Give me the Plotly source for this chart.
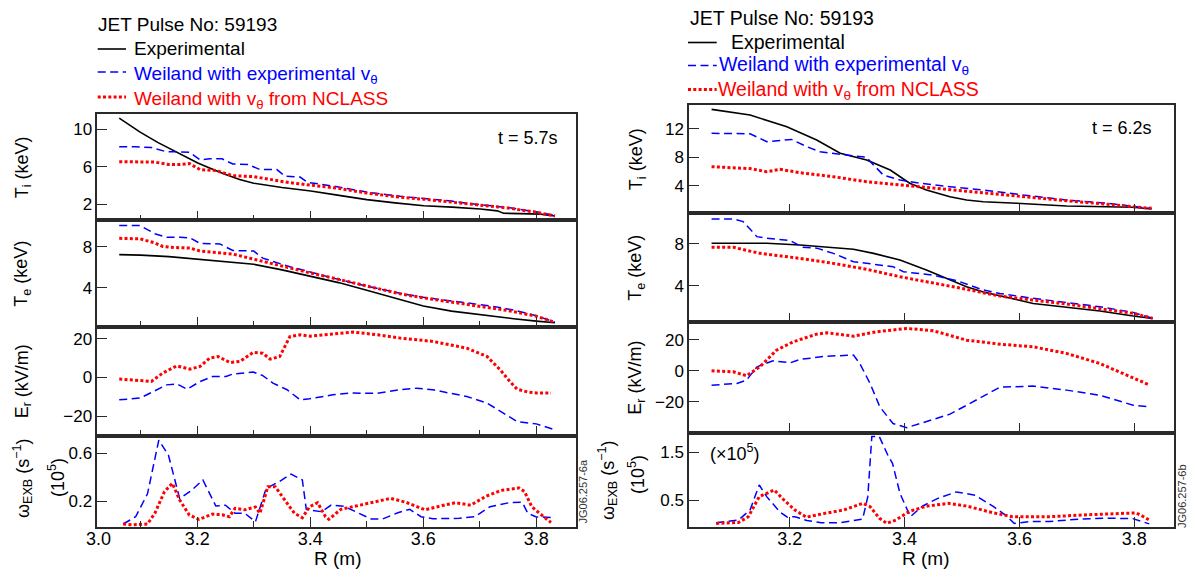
import plotly.graph_objects as go

W, H = 1188, 574

# ---------------- t = 5.7 s (left column) ----------------
L_TI_EXP_R = [3.062, 3.099, 3.130, 3.162, 3.201, 3.223, 3.249, 3.275, 3.300, 3.350, 3.401, 3.451,
              3.500, 3.550, 3.601, 3.651, 3.701, 3.731, 3.742, 3.770, 3.807, 3.833]
L_TI_EXP = [11.2, 9.7, 8.6, 7.6, 6.4, 5.85, 5.2, 4.65, 4.25, 3.8, 3.42, 2.95,
            2.5, 2.15, 1.85, 1.7, 1.5, 1.3, 1.05, 1.0, 0.95, 0.75]
L_TI_BLUE_R = [3.062, 3.091, 3.119, 3.146, 3.165, 3.186, 3.205, 3.222, 3.244, 3.263, 3.290, 3.311,
               3.341, 3.355, 3.382, 3.395, 3.450, 3.500, 3.559, 3.600, 3.650, 3.677, 3.750, 3.800, 3.833]
L_TI_BLUE = [8.15, 8.15, 8.05, 7.6, 7.6, 7.55, 6.75, 6.85, 6.85, 6.3, 6.25, 5.7,
             5.7, 5.0, 4.9, 4.35, 3.85, 3.3, 2.85, 2.65, 2.35, 2.1, 1.65, 1.2, 0.8]
L_TI_RED_R = [3.062, 3.099, 3.125, 3.149, 3.170, 3.186, 3.205, 3.233, 3.263, 3.300, 3.334, 3.364,
              3.400, 3.450, 3.500, 3.559, 3.600, 3.650, 3.700, 3.750, 3.800, 3.833]
L_TI_RED = [6.55, 6.55, 6.5, 6.25, 6.25, 6.35, 5.7, 5.6, 5.05, 4.95, 4.6, 4.3,
            4.05, 3.7, 3.2, 2.75, 2.55, 2.25, 1.95, 1.6, 1.15, 0.75]

L_TE_EXP_R = [3.062, 3.100, 3.150, 3.200, 3.250, 3.300, 3.350, 3.400, 3.450, 3.500, 3.559, 3.600,
              3.650, 3.677, 3.720, 3.760, 3.800, 3.833]
L_TE_EXP = [7.25, 7.2, 7.05, 6.82, 6.6, 6.3, 5.75, 5.1, 4.5, 3.75, 2.8, 2.2,
            1.7, 1.5, 1.2, 0.95, 0.72, 0.55]
L_TE_BLUE_R = [3.062, 3.099, 3.125, 3.146, 3.170, 3.187, 3.205, 3.240, 3.263, 3.300, 3.316, 3.341,
               3.364, 3.400, 3.440, 3.500, 3.559, 3.600, 3.650, 3.677, 3.720, 3.760, 3.800, 3.833]
L_TE_BLUE = [10.1, 10.1, 9.3, 8.95, 8.95, 8.9, 8.35, 8.3, 7.65, 7.6, 6.9, 6.45,
             6.05, 5.55, 4.95, 4.15, 3.45, 3.05, 2.7, 2.55, 2.2, 1.8, 1.25, 0.6]
L_TE_RED_R = [3.062, 3.099, 3.125, 3.139, 3.160, 3.187, 3.205, 3.263, 3.300, 3.350, 3.400, 3.440,
              3.500, 3.559, 3.600, 3.650, 3.700, 3.750, 3.800, 3.833]
L_TE_RED = [8.85, 8.8, 8.4, 8.05, 7.95, 7.9, 7.6, 7.3, 6.8, 6.1, 5.45, 4.95,
            4.2, 3.4, 3.0, 2.6, 2.2, 1.75, 1.2, 0.6]

L_ER_BLUE_R = [3.062, 3.099, 3.146, 3.164, 3.182, 3.205, 3.227, 3.251, 3.263, 3.299, 3.316, 3.334,
               3.359, 3.382, 3.399, 3.440, 3.470, 3.518, 3.559, 3.589, 3.620, 3.677, 3.713, 3.736,
               3.766, 3.800, 3.833]
L_ER_BLUE = [-11.5, -10.6, -3.8, -3.3, -6.0, -2.1, 0.5, 0.5, 1.8, 2.8, 1.0, -2.9,
             -6.3, -11.5, -11.0, -8.9, -8.0, -8.2, -6.3, -5.5, -6.5, -9.8, -13.2, -17.5,
             -22.7, -23.9, -27.0]
L_ER_RED_R = [3.062, 3.099, 3.119, 3.139, 3.164, 3.187, 3.205, 3.222, 3.237, 3.258, 3.276, 3.299,
              3.316, 3.329, 3.346, 3.364, 3.382, 3.400, 3.440, 3.476, 3.520, 3.559, 3.617, 3.677,
              3.713, 3.736, 3.753, 3.766, 3.785, 3.800, 3.826]
L_ER_RED = [-0.8, -1.5, -2.0, 2.3, 6.0, 4.3, 5.7, 10.0, 10.8, 7.7, 8.3, 12.9,
            12.5, 9.5, 10.8, 21.1, 22.0, 21.3, 22.5, 23.4, 22.0, 20.3, 18.6, 15.1,
            10.8, 4.0, -2.0, -6.0, -7.5, -8.0, -8.0]

L_W_BLUE_R = [3.069, 3.091, 3.112, 3.132, 3.149, 3.169, 3.190, 3.210, 3.233, 3.250, 3.267, 3.284,
              3.303, 3.322, 3.345, 3.366, 3.386, 3.393, 3.420, 3.437, 3.460, 3.487, 3.508, 3.528,
              3.555, 3.576, 3.596, 3.617, 3.664, 3.691, 3.718, 3.752, 3.775, 3.785, 3.799, 3.830]
L_W_BLUE = [0.007, 0.068, 0.26, 0.71, 0.586, 0.22, 0.29, 0.376, 0.158, 0.165, 0.097, 0.097,
            0.026, 0.306, 0.362, 0.426, 0.376, 0.13, 0.11, 0.166, 0.155, 0.097, 0.049, 0.049,
            0.102, 0.13, 0.068, 0.051, 0.055, 0.068, 0.152, 0.186, 0.19, 0.097, 0.068, 0.06]
L_W_RED_R = [3.069, 3.084, 3.112, 3.125, 3.142, 3.156, 3.169, 3.186, 3.203, 3.227, 3.244, 3.257,
             3.267, 3.284, 3.303, 3.311, 3.325, 3.338, 3.355, 3.372, 3.386, 3.399, 3.413, 3.427,
             3.433, 3.454, 3.481, 3.528, 3.542, 3.569, 3.603, 3.630, 3.657, 3.684, 3.711, 3.738,
             3.769, 3.779, 3.792, 3.813, 3.826]
L_W_RED = [0.007, 0.0, 0.007, 0.097, 0.278, 0.348, 0.208, 0.082, 0.046, 0.09, 0.085, 0.068,
           0.139, 0.126, 0.15, 0.097, 0.32, 0.32, 0.208, 0.097, 0.06, 0.152, 0.186, 0.068,
           0.046, 0.13, 0.158, 0.21, 0.222, 0.19, 0.126, 0.158, 0.186, 0.165, 0.24, 0.289,
           0.31, 0.28, 0.152, 0.068, 0.02]

# ---------------- t = 6.2 s (right column) ----------------
R_TI_EXP_R = [3.064, 3.131, 3.195, 3.247, 3.288, 3.334, 3.375, 3.409, 3.438, 3.479, 3.508, 3.537,
              3.595, 3.682, 3.798, 3.830]
R_TI_EXP = [14.72, 13.92, 12.28, 10.41, 8.55, 7.6, 6.2, 4.34, 3.4, 2.46, 2.0, 1.75,
            1.53, 1.15, 0.97, 0.73]
R_TI_BLUE_R = [3.064, 3.131, 3.160, 3.183, 3.203, 3.230, 3.253, 3.299, 3.334, 3.343, 3.363, 3.392,
               3.427, 3.479, 3.537, 3.601, 3.653, 3.682, 3.750, 3.798, 3.830]
R_TI_BLUE = [11.35, 11.3, 10.18, 10.4, 10.5, 9.47, 8.77, 8.3, 8.0, 7.15, 5.5, 4.8,
             4.34, 3.86, 3.4, 2.75, 2.3, 2.0, 1.55, 1.15, 0.8]
R_TI_RED_R = [3.064, 3.131, 3.160, 3.183, 3.218, 3.276, 3.334, 3.392, 3.450, 3.508, 3.566, 3.601,
              3.682, 3.798, 3.830]
R_TI_RED = [6.67, 6.4, 5.96, 6.3, 5.82, 5.26, 4.56, 4.1, 3.63, 3.16, 2.69, 2.5,
            1.9, 1.05, 0.82]

R_TE_EXP_R = [3.064, 3.160, 3.218, 3.276, 3.311, 3.346, 3.392, 3.438, 3.479, 3.508, 3.537, 3.566,
              3.624, 3.682, 3.740, 3.798, 3.832]
R_TE_EXP = [8.07, 8.07, 7.9, 7.68, 7.49, 7.1, 6.46, 5.5, 4.55, 3.9, 3.4, 3.05,
            2.3, 1.93, 1.57, 1.09, 0.87]
R_TE_BLUE_R = [3.064, 3.102, 3.119, 3.143, 3.160, 3.201, 3.223, 3.247, 3.276, 3.311, 3.380, 3.398,
               3.450, 3.491, 3.537, 3.566, 3.624, 3.682, 3.740, 3.798, 3.832]
R_TE_BLUE = [10.4, 10.4, 10.14, 8.7, 8.55, 8.32, 7.68, 7.6, 7.1, 6.3, 5.82, 5.34,
             5.0, 4.48, 3.59, 3.25, 2.79, 2.37, 1.98, 1.44, 0.87]
R_TE_RED_R = [3.064, 3.102, 3.148, 3.218, 3.276, 3.334, 3.392, 3.450, 3.508, 3.566, 3.682, 3.798,
              3.832]
R_TE_RED = [7.68, 7.68, 7.1, 6.62, 6.14, 5.57, 4.86, 4.29, 3.65, 3.0, 2.24, 1.35,
            0.87]

R_ER_BLUE_R = [3.064, 3.108, 3.125, 3.143, 3.171, 3.201, 3.218, 3.264, 3.311, 3.322, 3.340, 3.357,
               3.380, 3.404, 3.427, 3.479, 3.508, 3.566, 3.624, 3.682, 3.740, 3.798, 3.827]
R_ER_BLUE = [-9.3, -8.2, -6.0, 2.6, 6.5, 5.2, 7.4, 9.5, 10.2, 4.8, -8.2, -23.4,
             -34.2, -36.8, -34.2, -28.1, -22.3, -10.6, -9.9, -12.5, -15.8, -22.3, -23.4]
R_ER_RED_R = [3.064, 3.102, 3.125, 3.148, 3.177, 3.206, 3.247, 3.264, 3.311, 3.351, 3.404, 3.450,
              3.508, 3.566, 3.624, 3.682, 3.740, 3.798, 3.827]
R_ER_RED = [0.0, -0.65, -3.2, 2.6, 13.4, 18.8, 23.8, 24.7, 22.5, 25.3, 27.5, 26.0,
            19.9, 17.3, 15.6, 11.3, 4.8, -4.9, -9.3]

R_W_BLUE_R = [3.072, 3.111, 3.131, 3.147, 3.160, 3.183, 3.196, 3.209, 3.230, 3.255, 3.288, 3.314,
              3.327, 3.336, 3.343, 3.356, 3.372, 3.379, 3.392, 3.410, 3.431, 3.457, 3.490, 3.523,
              3.555, 3.575, 3.591, 3.620, 3.653, 3.705, 3.751, 3.797, 3.810, 3.826]
R_W_BLUE = [0.024, 0.08, 0.29, 0.815, 0.57, 0.25, 0.14, 0.15, 0.07, 0.024, 0.024, 0.08,
            0.1, 0.57, 1.83, 1.83, 1.41, 1.27, 0.64, 0.15, 0.37, 0.53, 0.67, 0.6,
            0.36, 0.19, 0.01, 0.05, 0.05, 0.1, 0.12, 0.11, 0.06, 0.0]
R_W_RED_R = [3.072, 3.111, 3.128, 3.147, 3.173, 3.190, 3.209, 3.229, 3.261, 3.294, 3.327, 3.340,
             3.356, 3.369, 3.385, 3.408, 3.438, 3.477, 3.509, 3.555, 3.588, 3.653, 3.718, 3.784,
             3.803, 3.816, 3.826]
R_W_RED = [0.01, 0.03, 0.15, 0.57, 0.71, 0.5, 0.29, 0.14, 0.22, 0.29, 0.43, 0.36,
           0.12, 0.01, 0.08, 0.26, 0.37, 0.43, 0.37, 0.23, 0.15, 0.15, 0.19, 0.22,
           0.23, 0.15, 0.08]

# tick labels
R_TICKS = [3.2, 3.4, 3.6, 3.8]
R_MINOR = [3.1, 3.3, 3.5, 3.7]
L_YTICKS = [[2, 6, 10], [4, 8], [-20, 0, 20], [0.2, 0.6]]
R_YTICKS = [[4, 8, 12], [4, 8], [-20, 0, 20], [0.5, 1.5]]

# ---------------- geometry (pixels) ----------------
FONT = "Liberation Sans, Arial, Helvetica, sans-serif"
AX_COLOR = "#2a2a2a"

L_XPIX = (97.3, 575.7)
R_XPIX = (689.0, 1174.0)
L_YPIX = [114.3, 220.3, 327.0, 435.7, 527.0]
R_YPIX = [105.0, 213.3, 322.3, 433.0, 527.0]
L_XRANGE = [3.0232, 3.8697]
R_XRANGE = [3.0247, 3.8691]
L_YRANGES = [[0.293, 11.6], [0.138, 10.62], [-30.0, 26.03], [-0.018, 0.7476]]
R_YRANGES = [[0.126, 15.33], [0.49, 10.94], [-40.3, 31.47], [-0.066, 1.905]]


def px(x):
    return x / W


def py(y):
    return 1 - y / H


EXP_LINE = dict(color="black", width=1.6)
BLUE_LINE = dict(color="#0000ff", width=1.5, dash="8px,4.5px")
RED_LINE = dict(color="#ff0000", width=3, dash="3px,2.3px")

fig = go.Figure()

left_series = [
    [(L_TI_EXP_R, L_TI_EXP, EXP_LINE), (L_TI_BLUE_R, L_TI_BLUE, BLUE_LINE), (L_TI_RED_R, L_TI_RED, RED_LINE)],
    [(L_TE_EXP_R, L_TE_EXP, EXP_LINE), (L_TE_BLUE_R, L_TE_BLUE, BLUE_LINE), (L_TE_RED_R, L_TE_RED, RED_LINE)],
    [(L_ER_BLUE_R, L_ER_BLUE, BLUE_LINE), (L_ER_RED_R, L_ER_RED, RED_LINE)],
    [(L_W_BLUE_R, L_W_BLUE, BLUE_LINE), (L_W_RED_R, L_W_RED, RED_LINE)],
]
right_series = [
    [(R_TI_EXP_R, R_TI_EXP, EXP_LINE), (R_TI_BLUE_R, R_TI_BLUE, BLUE_LINE), (R_TI_RED_R, R_TI_RED, RED_LINE)],
    [(R_TE_EXP_R, R_TE_EXP, EXP_LINE), (R_TE_BLUE_R, R_TE_BLUE, BLUE_LINE), (R_TE_RED_R, R_TE_RED, RED_LINE)],
    [(R_ER_BLUE_R, R_ER_BLUE, BLUE_LINE), (R_ER_RED_R, R_ER_RED, RED_LINE)],
    [(R_W_BLUE_R, R_W_BLUE, BLUE_LINE), (R_W_RED_R, R_W_RED, RED_LINE)],
]

layout_axes = {}


def add_column(series, col, xpix, ypix, xrange, yranges, yticks, minor):
    for row in range(4):
        idx = col * 4 + row + 1
        xa = "x" if idx == 1 else f"x{idx}"
        ya = "y" if idx == 1 else f"y{idx}"
        for xs, ys, line in series[row]:
            fig.add_trace(go.Scatter(x=xs, y=ys, mode="lines", line=line,
                                     xaxis=xa, yaxis=ya, showlegend=False,
                                     hoverinfo="skip"))
        xkey = "xaxis" if idx == 1 else f"xaxis{idx}"
        ykey = "yaxis" if idx == 1 else f"yaxis{idx}"
        bottom = row == 3
        xax = dict(domain=[px(xpix[0]), px(xpix[1])], range=xrange, anchor=ya,
                   showgrid=False, zeroline=False, showline=True, mirror=True,
                   linecolor=AX_COLOR, linewidth=1.5,
                   tickmode="array", tickvals=R_TICKS,
                   ticktext=[f"{v:.1f}" for v in R_TICKS],
                   ticks="inside", ticklen=10, tickwidth=1.3, tickcolor=AX_COLOR,
                   showticklabels=bottom, ticklabelstandoff=-5,
                   tickfont=dict(family=FONT, size=18, color="black"))
        if minor:
            xax["minor"] = dict(tickmode="array", tickvals=R_MINOR, ticks="inside",
                                ticklen=6, tickwidth=1.2, tickcolor=AX_COLOR)
        layout_axes[xkey] = xax
        layout_axes[ykey] = dict(domain=[py(ypix[row + 1]), py(ypix[row])],
                                 range=yranges[row], anchor=xa,
                                 showgrid=False, zeroline=False, showline=True, mirror=True,
                                 linecolor=AX_COLOR, linewidth=1.5,
                                 tickmode="array", tickvals=yticks[row],
                                 ticks="inside", ticklen=10, tickwidth=1.3, tickcolor=AX_COLOR,
                                 tickfont=dict(family=FONT, size=17, color="black"))


add_column(left_series, 0, L_XPIX, L_YPIX, L_XRANGE, L_YRANGES, L_YTICKS, True)
add_column(right_series, 1, R_XPIX, R_YPIX, R_XRANGE, R_YRANGES, R_YTICKS, False)

annotations = []
shapes = []


def text(x, y, s, size=18, color="black", xanchor="center", yanchor="middle", angle=0):
    annotations.append(dict(x=px(x), y=py(y), xref="paper", yref="paper", text=s,
                            showarrow=False, xanchor=xanchor, yanchor=yanchor,
                            textangle=angle,
                            font=dict(family=FONT, size=size, color=color)))


def sample(x0, x1, y, line):
    shapes.append(dict(type="line", xref="paper", yref="paper",
                       x0=px(x0), x1=px(x1), y0=py(y), y1=py(y), line=line))


VTH = "v<sub>θ</sub>"
KEY_L = 19
KEY_R = 19.5

# key, left column
text(96, 25, "JET Pulse No: 59193", size=KEY_L, xanchor="left")
sample(97.7, 126, 49, EXP_LINE)
text(132, 48.5, "Experimental", size=KEY_L, xanchor="left")
sample(97.7, 126, 72, BLUE_LINE)
text(132, 75, f"Weiland with experimental {VTH}", size=KEY_L, color="#0000ff", xanchor="left")
sample(97.7, 126, 97, RED_LINE)
text(132, 100, f"Weiland with {VTH} from NCLASS", size=KEY_L, color="#ff0000", xanchor="left")

# key, right column
text(688, 17.5, "JET Pulse No: 59193", size=KEY_R, xanchor="left")
sample(688, 716.7, 42.5, EXP_LINE)
text(728.5, 42, "Experimental", size=KEY_R, xanchor="left")
sample(688, 716.7, 65.5, BLUE_LINE)
text(716.5, 66, f"Weiland with experimental {VTH}", size=KEY_R, color="#0000ff", xanchor="left")
sample(688, 716.7, 89.5, RED_LINE)
text(715.5, 90.5, f"Weiland with {VTH} from NCLASS", size=KEY_R, color="#ff0000", xanchor="left")

# time stamps
text(528, 138, "t = 5.7s")
text(1122, 128, "t = 6.2s")
text(735, 452, "(×10<sup>5</sup>)")

# left edge tick label of R axis
text(98.5, 539, "3.0")

# R axis titles
text(337, 558, "R (m)", size=19)
text(925, 558, "R (m)", size=19)

# y titles, left column
text(23, (L_YPIX[0] + L_YPIX[1]) / 2, "T<sub>i</sub> (keV)", angle=-90)
text(23, (L_YPIX[1] + L_YPIX[2]) / 2, "T<sub>e</sub> (keV)", angle=-90)
text(23, (L_YPIX[2] + L_YPIX[3]) / 2, "E<sub>r</sub> (kV/m)", angle=-90)
text(22, 478, "ω<sub>EXB</sub> (s<sup>−1</sup>)", angle=-90)
text(56, 478, "(10<sup>5</sup>)", angle=-90)

# y titles, right column
text(637, (R_YPIX[0] + R_YPIX[1]) / 2, "T<sub>i</sub> (keV)", angle=-90)
text(637, (R_YPIX[1] + R_YPIX[2]) / 2, "T<sub>e</sub> (keV)", angle=-90)
text(637, (R_YPIX[2] + R_YPIX[3]) / 2, "E<sub>r</sub> (kV/m)", angle=-90)
text(607, 480, "ω<sub>EXB</sub> (s<sup>−1</sup>)", angle=-90)
text(636, 475, "(10<sup>5</sup>)", angle=-90)

# figure reference numbers
text(582.5, 492, "JG06.257-6a", size=11, color="#333333", angle=-90)
text(1182, 496, "JG06.257-6b", size=11, color="#333333", angle=-90)

fig.update_layout(
    width=W, height=H,
    margin=dict(l=0, r=0, t=0, b=0),
    paper_bgcolor="white", plot_bgcolor="white",
    showlegend=False,
    font=dict(family=FONT, size=18, color="black"),
    annotations=annotations,
    shapes=shapes,
    **layout_axes,
)

fig.write_html("out.html")
